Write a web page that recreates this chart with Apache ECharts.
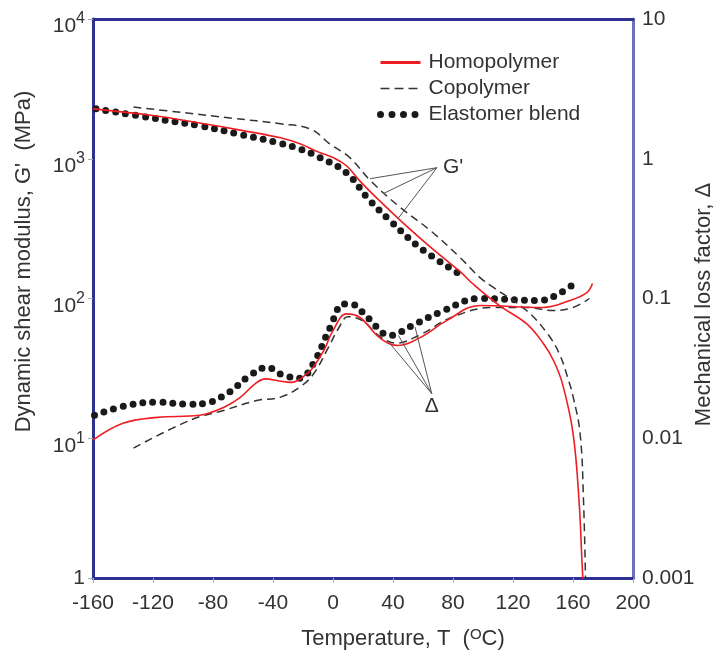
<!DOCTYPE html>
<html lang="en">
<head>
<meta charset="UTF-8">
<title>Dynamic shear modulus and loss factor</title>
<script src="https://cdn.jsdelivr.net/npm/echarts@6.0.0/dist/echarts.min.js"></script>
</head>
<body style="margin:0;background:#fff;">
<div id="chart" style="width:714px;height:652px;"></div>
<script>
// temperatures (°C) and G' (MPa)
var homoGT = [-160, -120, -90, -60, -35, -22, -10, 0, 9, 18, 31, 45, 65, 85, 93, 111, 129, 140, 147, 153, 160, 164, 166, 167];
var homoG = [2275, 2040, 1810, 1590, 1413, 1279, 1120, 1020, 891, 692, 501, 361, 233, 155, 128, 89, 66, 48, 36, 24.5, 10.9, 3.6, 1.3, 0.8];
var copoGT = [-133, -100, -67, -35, -15, -2, 11, 25, 45, 65, 85, 98, 107, 129, 143, 151, 157, 160, 164.7, 167, 168.5];
var copoG = [2344, 2140, 1950, 1778, 1630, 1274, 1023, 697, 447, 306, 195, 141, 120, 82, 56, 40, 26, 20, 10.9, 3.6, 0.8];
var elasGT = [-158, -120, -89, -60, -35, -22, -9, 9, 23, 38, 58, 83];
var elasG = [2275, 1950, 1722, 1479, 1288, 1175, 1023, 794, 525, 361, 231, 153];

// temperatures (°C) and loss factor
var homoDT = [-160, -140, -117, -89, -73, -62, -52, -45, -36, -28, -17, -13, -6, 0, 9, 18, 31, 43, 58, 76, 98, 140, 158, 169, 173];
var homoD = [0.0097, 0.0128, 0.0141, 0.0146, 0.0166, 0.0195, 0.0245, 0.0266, 0.0257, 0.0251, 0.0291, 0.0324, 0.0427, 0.0589, 0.0776, 0.0731, 0.0525, 0.0461, 0.0525, 0.0697, 0.0891, 0.0863, 0.0968, 0.1096, 0.128];
var copoDT = [-133, -95, -73, -51, -35, -22, -13, -4, 4, 10, 20, 31, 42, 58, 80, 107, 129, 147, 160, 171];
var copoD = [0.0085, 0.0135, 0.0158, 0.0186, 0.0197, 0.0233, 0.0288, 0.0427, 0.062, 0.0741, 0.069, 0.0537, 0.0479, 0.055, 0.074, 0.0863, 0.0863, 0.082, 0.0863, 0.1];
var elasDT = [-159, -137, -117, -95, -85, -69, -57, -44, -33, -22, -13, -2, 7, 13, 23, 38, 53, 71, 98, 138, 151, 161];
var elasD = [0.0146, 0.0172, 0.0181, 0.0175, 0.0178, 0.0214, 0.0273, 0.0321, 0.0282, 0.0269, 0.0344, 0.0617, 0.0912, 0.0906, 0.0731, 0.0545, 0.0641, 0.0794, 0.1, 0.0968, 0.1086, 0.128];

// annotation pointers (data space)
var gLabelAt = [69.3, 863];
var gTargets = [[24.7, 720], [33.3, 562], [43.3, 373]];
var dLabelAt = [65.8, 0.0209];
var dTargets = [[38, 0.0475], [43.6, 0.0545], [54.7, 0.0624]];

var FONT = 'Liberation Sans';
var TXT = '#333';
var NAVY = '#2e3192';

function pairs(xs, ys) {
	return xs.map(function (x, i) { return [x, ys[i]]; });
}

function pointer(from, targets) {
	return targets.map(function (t) {
		return [{ coord: from }, { coord: t }];
	});
}

var myChart = echarts.init(document.getElementById('chart'));

var red = '#ee1d23';
var dotStyle = { color: '#1a1a1a', width: 7, type: [0, 10], cap: 'round' };
var dashStyle = { color: '#333', width: 1.5, type: [8, 5] };
var redStyle = { color: red, width: 1.6 };

var pointerLine = {
	silent: true,
	symbol: ['none', 'none'],
	label: { show: false },
	lineStyle: { color: '#555', width: 1, type: 'solid' },
	emphasis: { disabled: true }
};

var option = {
	animation: false,
	backgroundColor: '#fff',
	grid: { left: 93, right: 81, top: 19, bottom: 74, outerBoundsMode: 'none' },
	legend: {
		left: 372,
		top: 47,
		orient: 'vertical',
		itemWidth: 40,
		itemHeight: 14,
		itemGap: 5,
		textStyle: { fontFamily: FONT, fontSize: 21, color: TXT, padding: [0, 0, 0, 3] },
		data: [
			{ name: 'Homopolymer', itemStyle: { opacity: 0 }, lineStyle: { width: 3 } },
			{ name: 'Copolymer', itemStyle: { opacity: 0 }, lineStyle: { width: 1.5, type: [9, 5] } },
			{ name: 'Elastomer blend', itemStyle: { opacity: 0 }, lineStyle: { width: 7, type: [0, 11.5], cap: 'round' } }
		]
	},
	xAxis: [{
		type: 'value',
		min: -160,
		max: 200,
		interval: 40,
		name: '{a|Temperature, T  (}{s|O}{a|C)}',
		nameLocation: 'middle',
		nameGap: 42,
		nameTextStyle: {
			padding: [0, 0, 0, 80],
			rich: {
				a: { fontFamily: FONT, fontSize: 22, color: TXT, padding: [8, 0, 0, 0] },
				s: { fontFamily: FONT, fontSize: 15, color: TXT }
			}
		},
		axisLine: { onZero: false, lineStyle: { color: NAVY, width: 3 } },
		axisTick: { show: true, length: 5, lineStyle: { color: '#aaa' } },
		axisLabel: { fontFamily: FONT, fontSize: 21, color: TXT, margin: 15 },
		splitLine: { show: false }
	}, {
		type: 'value',
		min: -160,
		max: 200,
		position: 'top',
		axisLine: { onZero: false, lineStyle: { color: NAVY, width: 3 } },
		axisTick: { show: false },
		axisLabel: { show: false },
		splitLine: { show: false }
	}],
	yAxis: [{
		type: 'log',
		logBase: 10,
		min: 1,
		max: 10000,
		position: 'left',
		name: "Dynamic shear modulus, G'  (MPa)",
		nameLocation: 'middle',
		nameRotate: 90,
		nameGap: 58,
		nameMoveOverlap: false,
		nameTextStyle: { fontFamily: FONT, fontSize: 22, color: TXT, padding: [0, 0, 0, 74] },
		axisLine: { show: true, onZero: false, lineStyle: { color: NAVY, width: 3 } },
		axisTick: { show: true, length: 5, lineStyle: { color: '#aaa' } },
		axisLabel: {
			margin: 8,
			formatter: function (v) {
				var n = Math.round(Math.log10(v));
				if (n === 0) return '{n|1}';
				return '{b|10}{s|' + n + '}';
			},
			rich: {
				n: { fontFamily: FONT, fontSize: 21, color: TXT },
				b: { fontFamily: FONT, fontSize: 21, color: TXT, padding: [15, 0, 0, 0] },
				s: { fontFamily: FONT, fontSize: 16, color: TXT }
			}
		},
		splitLine: { show: false }
	}, {
		type: 'log',
		logBase: 10,
		min: 0.001,
		max: 10,
		position: 'right',
		name: 'Mechanical loss factor, \u0394',
		nameLocation: 'middle',
		nameRotate: 90,
		nameGap: 60,
		nameMoveOverlap: false,
		nameTextStyle: { fontFamily: FONT, fontSize: 22, color: TXT, padding: [0, 12, 0, 0] },
		axisLine: { show: true, onZero: false, lineStyle: { color: '#6f72bd', width: 3 } },
		axisTick: { show: false },
		axisLabel: {
			fontFamily: FONT, fontSize: 21, color: TXT, margin: 9,
			formatter: function (v) { return String(parseFloat(v.toPrecision(2))); }
		},
		splitLine: { show: false }
	}],
	series: [
		{
			name: 'Elastomer blend', type: 'line', yAxisIndex: 0, smooth: 0.4,
			symbol: 'none', lineStyle: dotStyle, data: pairs(elasGT, elasG)
		},
		{
			name: 'Elastomer blend', type: 'line', yAxisIndex: 1, smooth: 0.4,
			symbol: 'none', lineStyle: dotStyle, data: pairs(elasDT, elasD)
		},
		{
			name: 'Copolymer', type: 'line', yAxisIndex: 0, smooth: 0.4,
			symbol: 'none', lineStyle: dashStyle, data: pairs(copoGT, copoG)
		},
		{
			name: 'Copolymer', type: 'line', yAxisIndex: 1, smooth: 0.4,
			symbol: 'none', lineStyle: dashStyle, data: pairs(copoDT, copoD)
		},
		{
			name: 'Homopolymer', type: 'line', yAxisIndex: 0, smooth: 0.4,
			symbol: 'none', lineStyle: redStyle, data: pairs(homoGT, homoG),
			markLine: Object.assign({ data: pointer(gLabelAt, gTargets) }, pointerLine),
			markPoint: {
				silent: true,
				symbolSize: 0,
				label: { show: true, position: 'right', distance: 6, formatter: "G'", fontFamily: FONT, fontSize: 21, color: TXT },
				data: [{ coord: gLabelAt }]
			}
		},
		{
			name: 'Homopolymer', type: 'line', yAxisIndex: 1, smooth: 0.4,
			symbol: 'none', lineStyle: redStyle, data: pairs(homoDT, homoD),
			markLine: Object.assign({ data: pointer(dLabelAt, dTargets) }, pointerLine),
			markPoint: {
				silent: true,
				symbolSize: 0,
				label: { show: true, position: 'bottom', distance: 2, formatter: '\u0394', fontFamily: FONT, fontSize: 21, color: TXT },
				data: [{ coord: dLabelAt }]
			}
		}
	]
};

myChart.setOption(option);
</script>
</body>
</html>
